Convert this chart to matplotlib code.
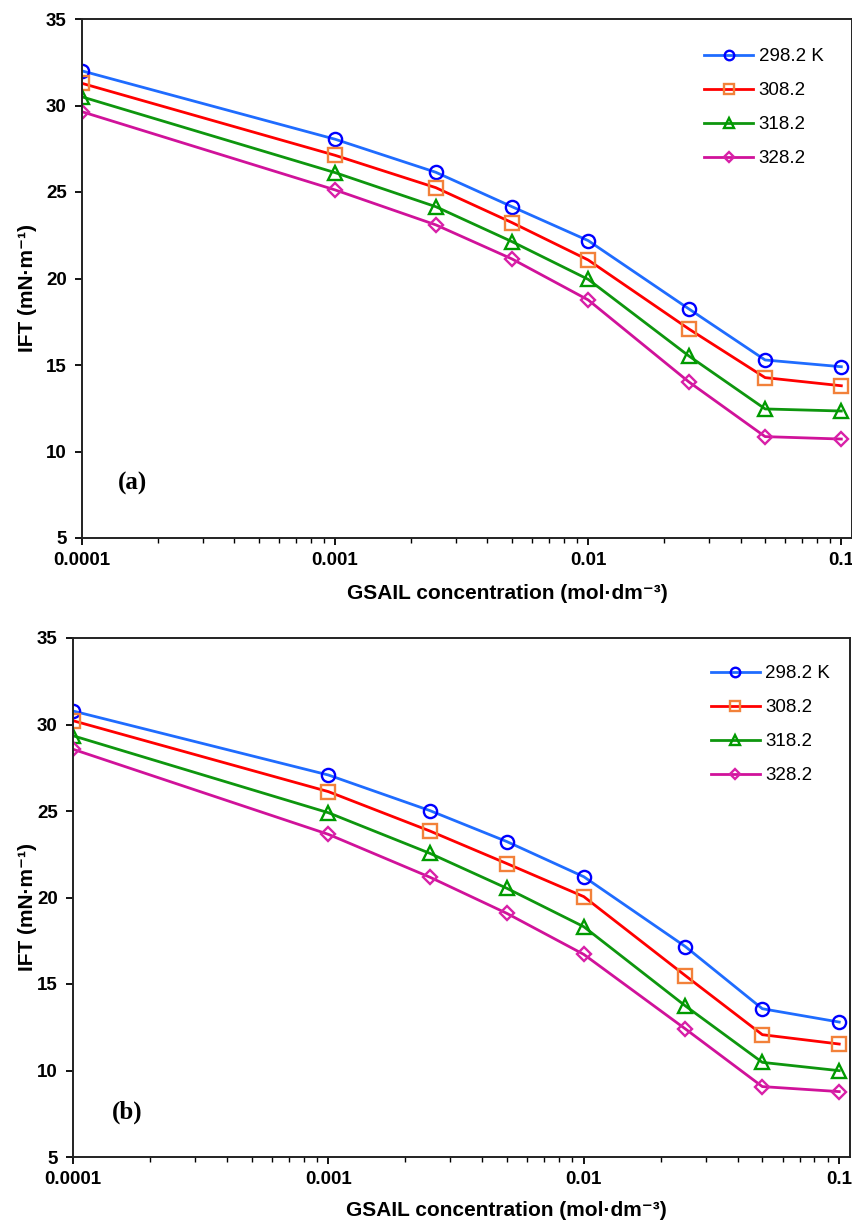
import matplotlib
matplotlib.use("Agg")
import matplotlib.pyplot as plt
from matplotlib.ticker import LogLocator, NullFormatter, FixedLocator, FixedFormatter

plt.rcParams['font.family'] = ['Liberation Sans', 'DejaVu Sans']

conc = [0.0001, 0.001, 0.0025, 0.005, 0.01, 0.025, 0.05, 0.1]
labels = ["298.2 K", "308.2", "318.2", "328.2"]

ift_a_2982 = [32.0, 28.05, 26.14, 24.15, 22.19, 18.24, 15.29, 14.90]
ift_a_3082 = [31.28, 27.12, 25.25, 23.23, 21.07, 17.08, 14.27, 13.80]
ift_a_3182 = [30.50, 26.12, 24.15, 22.13, 19.95, 15.52, 12.46, 12.34]
ift_a_3282 = [29.64, 25.12, 23.10, 21.13, 18.76, 14.02, 10.86, 10.72]

ift_b_2982 = [30.78, 27.08, 25.02, 23.23, 21.20, 17.16, 13.57, 12.80]
ift_b_3082 = [30.22, 26.12, 23.84, 21.96, 20.05, 15.48, 12.07, 11.53]
ift_b_3182 = [29.35, 24.90, 22.55, 20.53, 18.31, 13.73, 10.47, 9.99]
ift_b_3282 = [28.57, 23.65, 21.17, 19.08, 16.71, 12.40, 9.07, 8.78]

xticks = [0.0001, 0.001, 0.01, 0.1]
xticklabels = ["0.0001", "0.001", "0.01", "0.1"]
yticks = [5, 10, 15, 20, 25, 30, 35]

styles = [
    dict(color="#1f6cff", marker="o", mec="#0000ff"),
    dict(color="#ff0000", marker="s", mec="#f2813a"),
    dict(color="#0e960e", marker="^", mec="#009a00"),
    dict(color="#d0129a", marker="D", mec="#d820a8"),
]
msizes = [9.5, 9.5, 9.5, 7.5]

fig = plt.figure(figsize=(8.53, 12.21), dpi=100)
axA = fig.add_axes([82/853, (1221-538)/1221, 770/853, 519/1221])
axB = fig.add_axes([73/853, (1221-1157)/1221, 777/853, 519/1221])

panels = [
    (axA, [ift_a_2982, ift_a_3082, ift_a_3182, ift_a_3282], "(a)", (0.047, 0.106),
     (0.796, 0.962), (0.552, -0.088), (-0.058, 0.481)),
    (axB, [ift_b_2982, ift_b_3082, ift_b_3182, ift_b_3282], "(b)", (0.050, 0.087),
     (0.809, 0.966), (0.558, -0.085), (-0.046, 0.481)),
]

for ax, series, tag, tagpos, legpos, xlabpos, ylabpos in panels:
    for s, lab, st, ms in zip(series, labels, styles, msizes):
        ax.plot(conc, s, color=st["color"], lw=2.0, marker=st["marker"], ms=ms,
                mfc="none", mec=st["mec"], mew=1.7, label=lab)
    ax.set_xscale("log")
    ax.set_xlim(0.0001, 0.1102)
    ax.set_ylim(5, 35)
    ax.xaxis.set_major_locator(FixedLocator(xticks))
    ax.xaxis.set_major_formatter(FixedFormatter(xticklabels))
    ax.xaxis.set_minor_locator(LogLocator(base=10, subs=range(2, 10)))
    ax.xaxis.set_minor_formatter(NullFormatter())
    ax.set_yticks(yticks)
    ax.tick_params(axis="both", which="major", direction="out", length=5, width=1.3,
                   labelsize=13.5)
    ax.tick_params(axis="x", which="major", pad=5)
    ax.tick_params(axis="y", which="major", pad=6)
    ax.tick_params(axis="x", which="minor", direction="out", length=3.5, width=1.0)
    for lbl in ax.get_xticklabels() + ax.get_yticklabels():
        lbl.set_fontweight("bold")
    for sp in ax.spines.values():
        sp.set_linewidth(1.4)
        sp.set_color("#222222")
    ax.set_ylabel("IFT (mN·m⁻¹)", fontsize=15, fontweight="bold")
    ax.set_xlabel("GSAIL concentration (mol·dm⁻³)", fontsize=15, fontweight="bold")
    ax.xaxis.set_label_coords(*xlabpos)
    ax.yaxis.set_label_coords(*ylabpos)
    ax.text(tagpos[0], tagpos[1], tag, transform=ax.transAxes, fontsize=18,
            fontweight="bold", family="Liberation Serif", va="center", ha="left")
    ax.legend(loc="upper left", bbox_to_anchor=legpos, frameon=False, fontsize=13.5,
              handlelength=2.6, handletextpad=0.3, labelspacing=0.9, borderpad=0,
              markerscale=0.72)

fig.savefig("out.png", dpi=100)
